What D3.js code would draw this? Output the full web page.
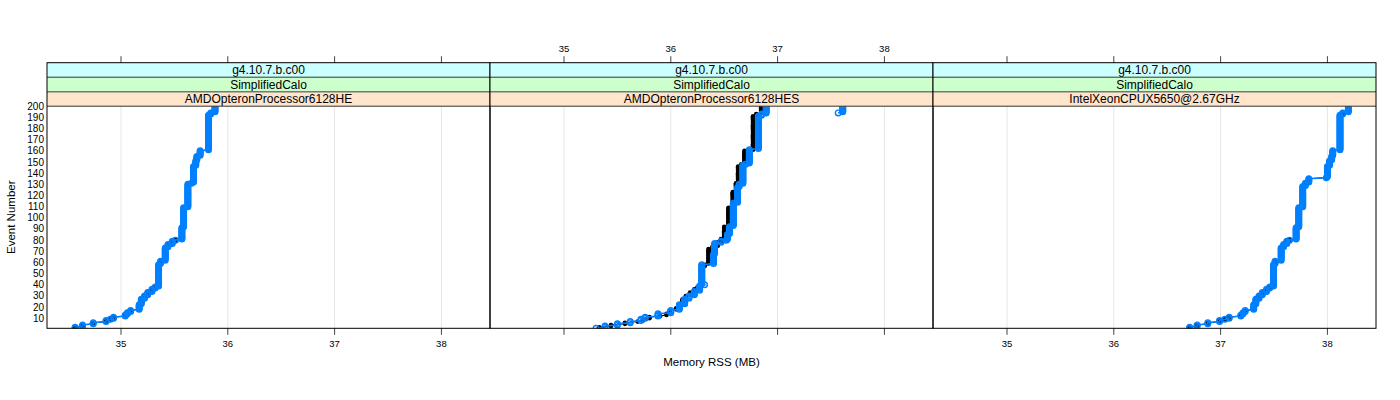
<!DOCTYPE html>
<html><head><meta charset="utf-8">
<script src="https://cdn.jsdelivr.net/npm/d3@7"></script>
<style>
body{margin:0;background:#fff}
svg{display:block}
text{font-family:"Liberation Sans",Arial,Helvetica,sans-serif;fill:#000}
</style>
</head><body>
<svg id="c" width="1400" height="400"></svg>
<script>
// ---------- data ----------
const panelNames = ["AMDOpteronProcessor6128HE", "AMDOpteronProcessor6128HES", "IntelXeonCPUX5650@2.67GHz"];
const stripVersion = "g4.10.7.b.c00";
const stripTest = "SimplifiedCalo";
const xTicks = [35, 36, 37, 38];
const yTicks = [10,20,30,40,50,60,70,80,90,100,110,120,130,140,150,160,170,180,190,200];

// run-length readings: memory RSS (MB) level and number of consecutive events at that level
// Panel 1 (AMDOpteronProcessor6128HE)
const p1Mem   = [34.57,34.64,34.74,34.86,34.90,34.93,35.04,35.06,35.09,35.17,35.19,35.22,35.25,35.29,35.32,35.352,35.37,35.414,35.44,35.48,35.51,35.57,35.586,35.626,35.66,35.679,35.70,35.71,35.741,35.819,35.84,35.88];
const p1Count = [2,2,2,2,1,2,2,2,2,5,5,3,3,3,2,20,3,12,3,3,1,11,18,21,1,15,5,4,5,32,2,6];

// Panel 2 (AMDOpteronProcessor6128HES) - black run
const p2bMem   = [35.33,35.44,35.57,35.69,35.74,35.80,35.90,35.96,35.99,36.05,36.08,36.11,36.14,36.18,36.22,36.25,36.284,36.32,36.353,36.39,36.44,36.47,36.50,36.54,36.58,36.61,36.63,36.66,36.69,36.77,36.80,36.846];
const p2bCount = [2,2,2,1,2,2,1,2,3,2,3,5,3,3,3,2,18,2,14,2,4,3,11,17,14,8,15,2,12,31,2,7];
// Panel 2 - blue run
const p2Mem   = [35.30,35.384,35.50,35.62,35.72,35.76,35.88,36.00,36.08,36.13,36.17,36.22,36.27,36.316,36.29,36.40,36.41,36.47,36.52,36.53,36.55,36.585,36.625,36.64,36.675,36.70,36.735,36.82,36.85,36.893];
const p2Count = [1,2,2,2,2,2,3,3,5,5,3,4,5,1,18,9,10,2,1,5,7,21,14,3,17,1,13,30,2,7];
// Panel 2 - blue stray points at the top (events 194-200)
const p2xStart = 194;
const p2xMem   = [37.567, 37.61];
const p2xCount = [1, 6];

// Panel 3 (IntelXeonCPUX5650@2.67GHz)
const p3Mem   = [36.71,36.78,36.88,36.99,37.04,37.08,37.19,37.21,37.23,37.31,37.33,37.36,37.39,37.43,37.46,37.495,37.51,37.567,37.59,37.62,37.645,37.707,37.732,37.769,37.794,37.826,37.99,38.00,38.02,38.04,38.05,38.118,38.143,38.196];
const p3Count = [2,2,2,2,1,2,2,2,2,5,5,3,3,3,2,20,3,12,3,3,1,11,18,19,3,4,1,10,5,4,5,32,2,6];

// ---------- build point tables ----------
function expand(mem, count, start) {
  const out = []; let e = start || 1;
  mem.forEach((m, i) => { for (let k = 0; k < count[i]; k++) out.push({ev: e++, mem: m}); });
  return out;
}
const series = [
  { black: [expand(p1Mem, p1Count)], blue: [expand(p1Mem, p1Count)] },
  { black: [expand(p2bMem, p2bCount)], blue: [expand(p2Mem, p2Count), expand(p2xMem, p2xCount, p2xStart)] },
  { black: [expand(p3Mem, p3Count)], blue: [expand(p3Mem, p3Count)] }
];

// ---------- layout ----------
const svg = d3.select("#c");
const left = 47, panelW = 443;
const plotTop = 106.2, plotBottom = 328.3;
const stripH = 14.5;
const stripTop = plotTop - 3 * stripH;
const BLUE = "#0080ff";

const y = d3.scaleLinear().domain([1, 200]).range([plotBottom, plotTop]);

const defs = svg.append("defs");

panelNames.forEach((name, i) => {
  const x0 = left + i * panelW;
  const x = d3.scaleLinear().domain([34.307, 38.455]).range([x0, x0 + panelW]);
  const g = svg.append("g");

  defs.append("clipPath").attr("id", "clip" + i)
    .append("rect").attr("x", x0).attr("y", plotTop).attr("width", panelW).attr("height", plotBottom - plotTop);

  // grid
  g.append("g").selectAll("line").data(xTicks).join("line")
    .attr("x1", d => x(d)).attr("x2", d => x(d)).attr("y1", plotTop).attr("y2", plotBottom)
    .attr("stroke", "#e6e6e6").attr("stroke-width", 1);

  const marks = g.append("g").attr("clip-path", `url(#clip${i})`);
  const line = d3.line().x(d => x(d.mem)).y(d => y(d.ev));

  series[i].black.forEach(s => {
    marks.append("path").datum(s).attr("d", line).attr("fill", "none").attr("stroke", "#000").attr("stroke-width", 1);
    marks.append("g").selectAll("circle").data(s).join("circle")
      .attr("cx", d => x(d.mem)).attr("cy", d => y(d.ev)).attr("r", 2.3).attr("fill", "#000");
  });
  series[i].blue.forEach(s => {
    marks.append("path").datum(s).attr("d", line).attr("fill", "none").attr("stroke", BLUE).attr("stroke-width", 1.6);
    marks.append("g").selectAll("circle").data(s).join("circle")
      .attr("cx", d => x(d.mem)).attr("cy", d => y(d.ev)).attr("r", 2.8)
      .attr("fill", "none").attr("stroke", BLUE).attr("stroke-width", 1.4);
  });

  // strips (bottom: processor, middle: test, top: version)
  const strips = [
    {t: stripVersion, c: "#ccffff"},
    {t: stripTest, c: "#ccffcc"},
    {t: name, c: "#ffe5cc"}
  ];
  strips.forEach((s, k) => {
    const sy = stripTop + k * stripH;
    g.append("rect").attr("x", x0).attr("y", sy).attr("width", panelW).attr("height", stripH)
      .attr("fill", s.c).attr("stroke", "none");
    g.append("text").attr("x", x0 + panelW / 2).attr("y", sy + stripH / 2 + 4.2)
      .attr("text-anchor", "middle").attr("font-size", 12).text(s.t);
  });
  [stripTop + stripH, stripTop + 2 * stripH].forEach((ly, k) => {
    g.append("line").attr("x1", x0).attr("x2", x0 + panelW).attr("y1", ly).attr("y2", ly)
      .attr("stroke", k === 1 ? "#777" : "#333").attr("stroke-width", k === 1 ? 1.6 : 1);
  });
  g.append("line").attr("x1", x0).attr("x2", x0 + panelW).attr("y1", plotTop).attr("y2", plotTop)
    .attr("stroke", "#333").attr("stroke-width", 1);

  // ticks top and bottom
  const tickG = g.append("g").attr("stroke", "#444").attr("stroke-width", 1);
  xTicks.forEach(t => {
    tickG.append("line").attr("x1", x(t)).attr("x2", x(t)).attr("y1", stripTop).attr("y2", stripTop - 6.5);
    tickG.append("line").attr("x1", x(t)).attr("x2", x(t)).attr("y1", plotBottom).attr("y2", plotBottom + 6.5);
  });
  if (i === 1) {
    g.append("g").selectAll("text").data(xTicks).join("text")
      .attr("x", d => x(d)).attr("y", stripTop - 10.5).attr("text-anchor", "middle").attr("font-size", 9.5).text(d => d);
  } else {
    g.append("g").selectAll("text").data(xTicks).join("text")
      .attr("x", d => x(d)).attr("y", plotBottom + 18.5).attr("text-anchor", "middle").attr("font-size", 9.5).text(d => d);
  }

  // panel frame
  g.append("rect").attr("x", x0).attr("y", stripTop).attr("width", panelW).attr("height", plotBottom - stripTop)
    .attr("fill", "none").attr("stroke", "#000").attr("stroke-width", 1);
});

// y tick labels
svg.append("g").selectAll("text").data(yTicks).join("text")
  .attr("x", 44).attr("y", d => y(d) + 3.5).attr("text-anchor", "end").attr("font-size", 10).text(d => d);

// axis titles
svg.append("text").attr("x", left + 1.5 * panelW).attr("y", 366).attr("text-anchor", "middle")
  .attr("font-size", 11.5).text("Memory RSS (MB)");
svg.append("text").attr("transform", `translate(15,${(plotTop + plotBottom) / 2}) rotate(-90)`)
  .attr("text-anchor", "middle").attr("font-size", 11.5).text("Event Number");
</script>
</body></html>
